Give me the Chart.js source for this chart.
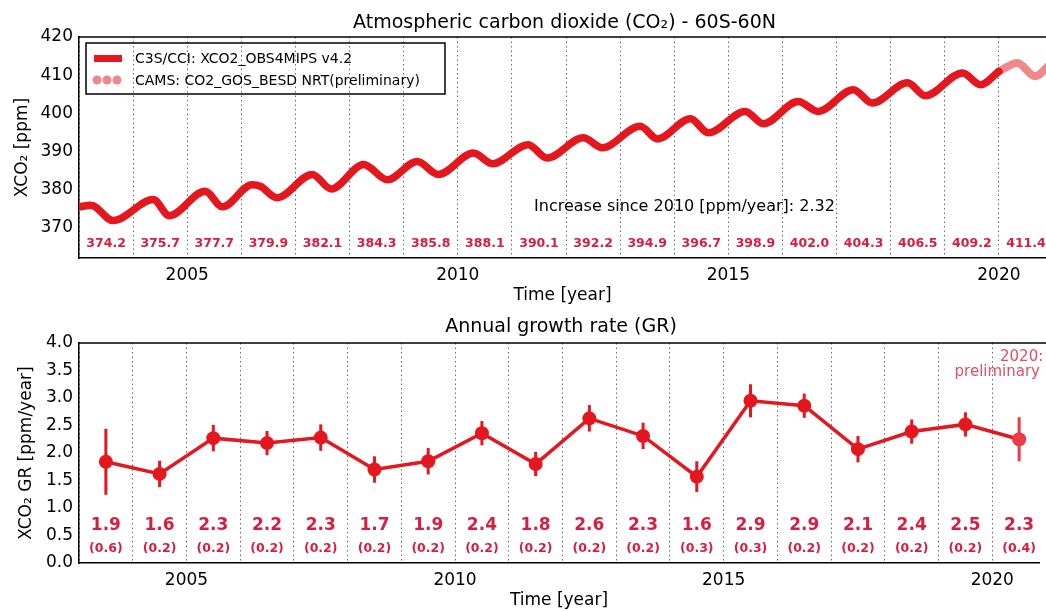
<!DOCTYPE html>
<html>
<head>
<meta charset="utf-8">
<script src="https://cdn.jsdelivr.net/npm/chart.js@4"></script>
<style>
  html, body { margin: 0; padding: 0; background: #fff; overflow: hidden; }
  #topBox { position: absolute; left: 0; top: 0; }
  #botBox { position: absolute; left: 0; top: 300px; }
</style>
</head>
<body>
<div id="topBox"><canvas id="topChart" width="1046" height="310"></canvas></div>
<div id="botBox"><canvas id="botChart" width="1046" height="311"></canvas></div>
<script>
// monthly-ish XCO2 turning points (C3S/CCI)
const co2Years = [2003.0, 2003.22, 2003.63, 2004.37, 2004.67, 2005.33, 2005.65, 2006.2, 2006.35, 2006.66,
  2007.31, 2007.66, 2008.26, 2008.7, 2009.25, 2009.64, 2010.29, 2010.64, 2011.3, 2011.65,
  2012.32, 2012.67, 2013.37, 2013.69, 2014.3, 2014.63, 2015.31, 2015.65, 2016.29, 2016.66,
  2017.31, 2017.66, 2018.31, 2018.64, 2019.33, 2019.66, 2020.0];
const co2Values = [375.5, 375.9, 371.9, 377.4, 373.2, 379.6, 375.5, 381.3, 380.9, 377.9,
  384.0, 380.2, 386.6, 382.6, 387.4, 384.0, 389.6, 386.8, 391.8, 388.3,
  393.6, 391.0, 396.6, 393.3, 398.6, 394.9, 400.5, 397.3, 403.1, 400.5,
  406.2, 402.7, 408.0, 404.6, 410.6, 407.5, 411.0];

// CAMS NRT (preliminary)
const nrtYears = [2020.0, 2020.34, 2020.67, 2020.95];
const nrtValues = [411.0, 413.2, 409.7, 412.9];

// annual means printed along the bottom of the top panel
const meanYears = [2003, 2004, 2005, 2006, 2007, 2008, 2009, 2010, 2011, 2012, 2013, 2014, 2015, 2016, 2017, 2018, 2019, 2020];
const meanLabels = ['374.2', '375.7', '377.7', '379.9', '382.1', '384.3', '385.8', '388.1', '390.1', '392.2',
  '394.9', '396.7', '398.9', '402.0', '404.3', '406.5', '409.2', '411.4'];

// annual growth rate
const grYears = [2003.5, 2004.5, 2005.5, 2006.5, 2007.5, 2008.5, 2009.5, 2010.5, 2011.5, 2012.5,
  2013.5, 2014.5, 2015.5, 2016.5, 2017.5, 2018.5, 2019.5, 2020.5];
const grValues = [1.84, 1.62, 2.27, 2.18, 2.28, 1.70, 1.85, 2.36, 1.80, 2.63, 2.31, 1.57, 2.95, 2.86, 2.07, 2.39, 2.52, 2.25];
const grErrors = [0.6, 0.24, 0.24, 0.22, 0.24, 0.24, 0.24, 0.22, 0.22, 0.24, 0.24, 0.28, 0.3, 0.22, 0.24, 0.22, 0.22, 0.4];
const grLabels = ['1.9', '1.6', '2.3', '2.2', '2.3', '1.7', '1.9', '2.4', '1.8', '2.6', '2.3', '1.6', '2.9', '2.9', '2.1', '2.4', '2.5', '2.3'];
const grErrLabels = ['(0.6)', '(0.2)', '(0.2)', '(0.2)', '(0.2)', '(0.2)', '(0.2)', '(0.2)', '(0.2)', '(0.2)',
  '(0.2)', '(0.3)', '(0.3)', '(0.2)', '(0.2)', '(0.2)', '(0.2)', '(0.4)'];

const RED = 'rgb(228,22,30)';
const PINK = 'rgba(236,105,110,0.8)';
const LABEL = 'rgb(216,30,62)';
const FONT = '"DejaVu Sans", "Liberation Sans", sans-serif';

Chart.defaults.font.family = FONT;
Chart.defaults.color = '#000';

// the plot runs off the right edge of the picture, so the axis stops just short of 2021
const xAxis = (height, titlePad) => ({
  type: 'linear', min: 2003, max: 2020.87,
  afterFit: (s) => { s.height = height; },
  ticks: {
    stepSize: 1, autoSkip: false, includeBounds: false, maxRotation: 0, padding: 7,
    font: { size: 17 }, color: '#000',
    callback: (v) => (v % 5 === 0 ? String(v) : '')
  },
  grid: { display: true, color: '#6a6a6a', lineWidth: 1, drawTicks: false },
  border: { display: true, color: '#000', width: 1.5, dash: [1.5, 3] },
  title: { display: true, text: 'Time [year]', font: { size: 17 }, color: '#000', padding: { top: 0, bottom: titlePad } }
});

// top edge of the frame + panel title
const framePlugin = {
  id: 'frame',
  afterDraw(chart, args, opts) {
    const { ctx, chartArea: a } = chart;
    ctx.save();
    ctx.strokeStyle = '#000';
    ctx.lineWidth = 1.5;
    ctx.beginPath();
    ctx.moveTo(a.left, a.top);
    ctx.lineTo(chart.width, a.top);
    ctx.stroke();
    ctx.fillStyle = '#000';
    ctx.font = '19px ' + FONT;
    ctx.textAlign = 'center';
    ctx.textBaseline = 'middle';
    ctx.fillText(opts.title, (a.left + a.right) / 2 + 2, opts.titleY);
    ctx.restore();
  }
};

const topNotes = {
  id: 'topNotes',
  afterDraw(chart) {
    const { ctx, chartArea: a, scales: { x, y } } = chart;
    ctx.save();
    // annual means
    ctx.fillStyle = LABEL;
    ctx.font = 'bold 12.5px ' + FONT;
    ctx.textAlign = 'center';
    ctx.textBaseline = 'middle';
    meanYears.forEach((yr, i) => {
      ctx.fillText(meanLabels[i], x.getPixelForValue(yr + 0.5), a.bottom - 14);
    });
    // trend text
    ctx.fillStyle = '#000';
    ctx.font = '16px ' + FONT;
    ctx.textAlign = 'left';
    ctx.fillText('Increase since 2010 [ppm/year]: 2.32', x.getPixelForValue(2011.41), y.getPixelForValue(375.6));
    // legend
    const lx = a.left + 7, ly = a.top + 6;
    ctx.strokeStyle = '#000';
    ctx.lineWidth = 1.5;
    ctx.strokeRect(lx, ly, 359, 51);
    ctx.strokeStyle = RED;
    ctx.lineWidth = 7;
    ctx.beginPath();
    ctx.moveTo(lx + 8, ly + 15.5);
    ctx.lineTo(lx + 36, ly + 15.5);
    ctx.stroke();
    ctx.fillStyle = PINK;
    [11, 21, 31].forEach((dx) => {
      ctx.beginPath();
      ctx.arc(lx + dx, ly + 37, 4.5, 0, Math.PI * 2);
      ctx.fill();
    });
    ctx.fillStyle = '#000';
    ctx.font = '14px ' + FONT;
    ctx.fillText('C3S/CCI: XCO2_OBS4MIPS v4.2', lx + 49, ly + 16);
    ctx.fillText('CAMS: CO2_GOS_BESD NRT(preliminary)', lx + 49, ly + 38);
    ctx.restore();
  }
};

new Chart(document.getElementById('topChart').getContext('2d'), {
  type: 'line',
  data: {
    datasets: [{
      label: 'C3S/CCI: XCO2_OBS4MIPS v4.2',
      data: co2Years.map((yr, i) => ({ x: yr, y: co2Values[i] })),
      borderColor: RED,
      borderWidth: 7.5,
      pointRadius: 0,
      cubicInterpolationMode: 'monotone',
      borderCapStyle: 'round',
      borderJoinStyle: 'round'
    }, {
      label: 'CAMS: CO2_GOS_BESD NRT(preliminary)',
      data: nrtYears.map((yr, i) => ({ x: yr, y: nrtValues[i] })),
      borderColor: PINK,
      borderWidth: 8,
      pointRadius: 0,
      cubicInterpolationMode: 'monotone',
      borderCapStyle: 'round'
    }]
  },
  options: {
    responsive: false,
    animation: false,
    layout: { padding: { top: 37, right: 0, left: 0, bottom: 0 } },
    plugins: {
      legend: { display: false },
      tooltip: { enabled: false },
      frame: { title: 'Atmospheric carbon dioxide (CO\u2082) - 60S-60N', titleY: 23 }
    },
    scales: {
      x: xAxis(52, 4),
      y: {
        min: 362.1, max: 420,
        afterFit: (s) => { s.width = 79; },
        ticks: { stepSize: 10, includeBounds: false, padding: 6, font: { size: 17 }, color: '#000' },
        grid: { display: false, drawTicks: false },
        border: { display: true, color: '#000', width: 1.5 },
        title: { display: true, text: 'XCO\u2082 [ppm]', font: { size: 17 }, color: '#000', padding: { top: 12, bottom: 0 } }
      }
    }
  },
  plugins: [framePlugin, topNotes]
});

const errorBars = {
  id: 'errorBars',
  beforeDatasetsDraw(chart) {
    const { ctx, scales: { x, y } } = chart;
    ctx.save();
    ctx.lineWidth = 3;
    grYears.forEach((yr, i) => {
      const px = x.getPixelForValue(yr);
      ctx.strokeStyle = i === grYears.length - 1 ? 'rgb(232,60,70)' : RED;
      ctx.beginPath();
      ctx.moveTo(px, y.getPixelForValue(grValues[i] + grErrors[i]));
      ctx.lineTo(px, y.getPixelForValue(grValues[i] - grErrors[i]));
      ctx.stroke();
    });
    ctx.restore();
  }
};

const botNotes = {
  id: 'botNotes',
  afterDraw(chart) {
    const { ctx, chartArea: a, scales: { x } } = chart;
    ctx.save();
    ctx.fillStyle = LABEL;
    ctx.textAlign = 'center';
    ctx.textBaseline = 'middle';
    grYears.forEach((yr, i) => {
      const px = x.getPixelForValue(yr);
      ctx.font = 'bold 17px ' + FONT;
      ctx.fillText(grLabels[i], px, a.bottom - 37);
      ctx.font = 'bold 12.5px ' + FONT;
      ctx.fillText(grErrLabels[i], px, a.bottom - 14);
    });
    ctx.fillStyle = 'rgb(222,80,100)';
    ctx.font = '15px ' + FONT;
    ctx.textAlign = 'left';
    ctx.fillText('2020:', 1000, a.top + 14);
    ctx.textAlign = 'right';
    ctx.fillText('preliminary', 1040, a.top + 29);
    ctx.restore();
  }
};

new Chart(document.getElementById('botChart').getContext('2d'), {
  type: 'line',
  data: {
    datasets: [{
      label: 'GR',
      data: grYears.map((yr, i) => ({ x: yr, y: grValues[i] })),
      borderColor: RED,
      borderWidth: 3.5,
      tension: 0,
      pointRadius: 7,
      pointBorderWidth: 0,
      pointBackgroundColor: grYears.map((yr, i) => (i === grYears.length - 1 ? 'rgb(232,60,70)' : RED))
    }]
  },
  options: {
    responsive: false,
    animation: false,
    layout: { padding: { top: 43, right: 0, left: 0, bottom: 0 } },
    plugins: {
      legend: { display: false },
      tooltip: { enabled: false },
      frame: { title: 'Annual growth rate (GR)', titleY: 27 }
    },
    scales: {
      x: xAxis(48, 0),
      y: {
        min: 0, max: 4,
        afterFit: (s) => { s.width = 79; },
        ticks: { stepSize: 0.5, padding: 6, font: { size: 17 }, color: '#000', callback: (v) => v.toFixed(1) },
        grid: { display: false, drawTicks: false },
        border: { display: true, color: '#000', width: 1.5 },
        title: { display: true, text: 'XCO\u2082 GR [ppm/year]', font: { size: 17 }, color: '#000', padding: { top: 16, bottom: 0 } }
      }
    }
  },
  plugins: [framePlugin, errorBars, botNotes]
});
</script>
</body>
</html>
